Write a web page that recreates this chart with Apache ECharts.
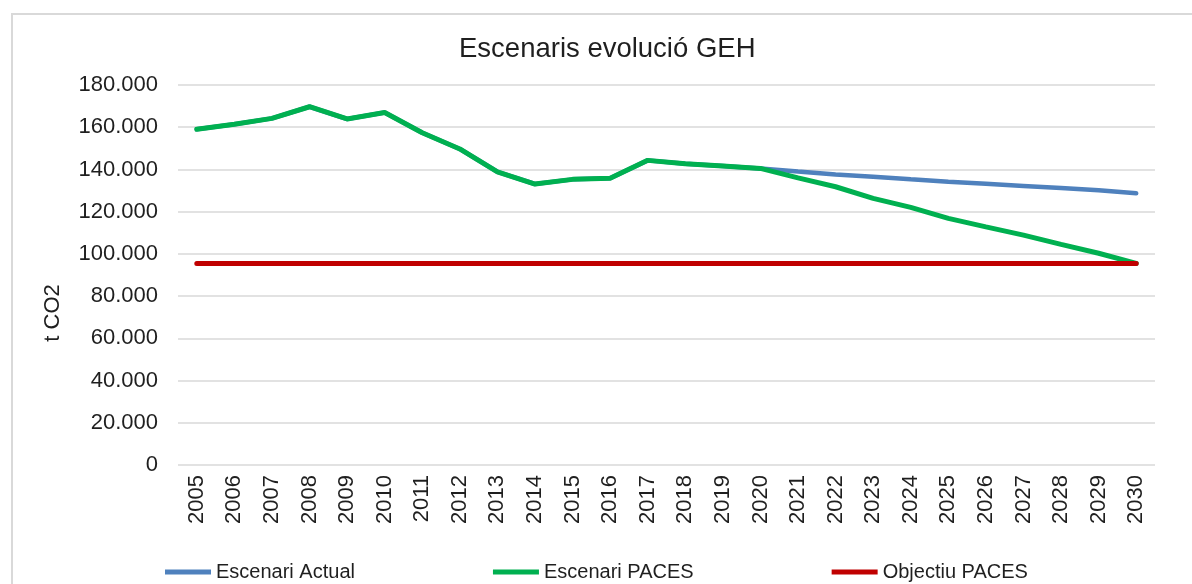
<!DOCTYPE html>
<html>
<head>
<meta charset="utf-8">
<script src="https://cdn.jsdelivr.net/npm/echarts@6/dist/echarts.min.js"></script>
<style>
  body { margin: 0; background: #fff; }
  #frame { position: absolute; left: 11px; top: 13px; width: 1300px; height: 700px; border: 2px solid #d9d9d9; box-sizing: border-box; }
  #chart { position: absolute; left: 0; top: 0; width: 1192px; height: 584px; }
</style>
</head>
<body>
<div id="frame"></div>
<div id="chart"></div>
<script>
const years = ['2005', '2006', '2007', '2008', '2009', '2010', '2011', '2012', '2013', '2014', '2015', '2016', '2017',
  '2018', '2019', '2020', '2021', '2022', '2023', '2024', '2025', '2026', '2027', '2028', '2029', '2030'];
const escenariActual = [159000, 161400, 164200, 169700, 163900, 167000, 157400, 149700, 138900, 133100, 135300, 135800, 144300,
  142700, 141600, 140500, 139000, 137600, 136500, 135300, 134200, 133200, 132200, 131200, 130100, 128700];
const escenariPaces = [159000, 161400, 164200, 169700, 163900, 167000, 157400, 149700, 138900, 133100, 135300, 135800, 144300,
  142700, 141600, 140500, 136000, 131800, 126300, 122000, 116800, 112800, 108900, 104500, 100300, 95500];
const objectiuPaces = years.map(() => 95500);
const yTicks = [0, 20000, 40000, 60000, 80000, 100000, 120000, 140000, 160000, 180000];

const fontFamily = '"Liberation Sans", Arial, sans-serif';
const textColor = '#1f1f1f';

const myChart = echarts.init(document.getElementById('chart'));
const option = {
  animation: false,
  title: {
    text: 'Escenaris evolució GEH',
    left: 459,
    top: 35,
    padding: 0,
    textStyle: { fontFamily: fontFamily, fontSize: 27.5, fontWeight: 'normal', color: textColor }
  },
  legend: {
    data: ['Escenari Actual', 'Escenari PACES', 'Objectiu PACES'],
    left: 165,
    top: 562,
    padding: 0,
    icon: 'rect',
    itemWidth: 46,
    itemHeight: 5,
    itemGap: 138,
    textStyle: { fontFamily: fontFamily, fontSize: 20, color: textColor }
  },
  grid: { left: 178, right: 37, top: 85, bottom: 119 },
  graphic: [{
    type: 'text',
    x: 53,
    y: 313,
    rotation: Math.PI / 2,
    style: { text: 't CO2', font: '22px ' + fontFamily, fill: textColor, align: 'center', verticalAlign: 'middle' }
  }],
  xAxis: {
    type: 'category',
    data: years,
    boundaryGap: true,
    axisLine: { show: false },
    axisTick: { show: false },
    axisLabel: { rotate: 90, margin: 10, interval: 0, fontFamily: fontFamily, fontSize: 22, color: textColor }
  },
  yAxis: {
    type: 'value',
    min: 0,
    max: 180000,
    interval: 20000,
    axisLine: { show: false },
    axisTick: { show: false },
    splitLine: { lineStyle: { color: '#d9d9d9', width: 1.5 } },
    axisLabel: {
      margin: 20,
      fontFamily: fontFamily,
      fontSize: 22,
      color: textColor,
      formatter: v => yTicks.includes(v) ? (v === 0 ? '0' : v.toLocaleString('de-DE')) : ''
    }
  },
  series: [
    {
      name: 'Escenari Actual',
      type: 'line',
      data: escenariActual,
      symbol: 'none',
      itemStyle: { color: '#4f81bd' },
      lineStyle: { color: '#4f81bd', width: 4.5, cap: 'round' },
      z: 1
    },
    {
      name: 'Escenari PACES',
      type: 'line',
      data: escenariPaces,
      symbol: 'none',
      itemStyle: { color: '#00b050' },
      lineStyle: { color: '#00b050', width: 5, cap: 'round' },
      z: 2
    },
    {
      name: 'Objectiu PACES',
      type: 'line',
      data: objectiuPaces,
      symbol: 'none',
      itemStyle: { color: '#c00000' },
      lineStyle: { color: '#c00000', width: 5, cap: 'round' },
      z: 3
    }
  ]
};
myChart.setOption(option);
</script>
</body>
</html>
